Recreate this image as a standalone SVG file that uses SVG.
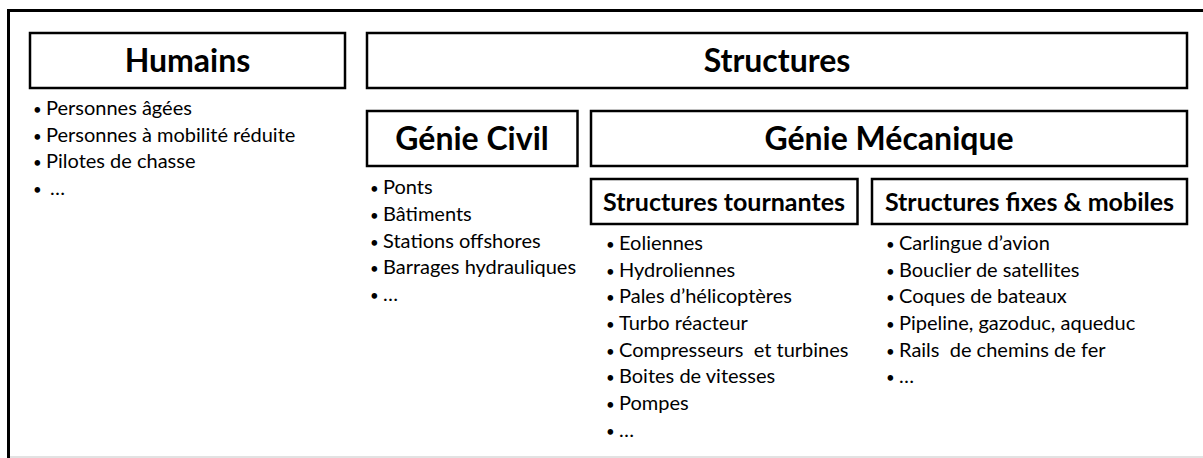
<svg xmlns="http://www.w3.org/2000/svg" width="1203" height="458" viewBox="0 0 1203 458">
<style>
.box{fill:#fff;stroke:#000;stroke-width:2.5}
.t1{font-family:Lato,"Liberation Sans",sans-serif;font-weight:bold;font-size:32px;text-anchor:middle;fill:#000}
.t2{font-family:Lato,"Liberation Sans",sans-serif;font-weight:bold;font-size:25px;text-anchor:middle;fill:#000}
.li{font-family:Lato,"Liberation Sans",sans-serif;font-size:20px;fill:#000}
.b{font-size:15px}
</style>
<rect width="1203" height="458" fill="#fff"/>
<path d="M8.5,458 V10.5 H1210" fill="none" stroke="#000" stroke-width="3"/>
<line x1="10" y1="457" x2="1203" y2="457" stroke="#d9d9d9" stroke-width="1.5"/>
<g id="humains">
<rect class="box" x="30" y="33" width="315" height="55"/>
<text class="t1" x="187.5" y="72">Humains</text>
<text class="li" y="115"><tspan class="b" x="33">•</tspan><tspan x="46">Personnes âgées</tspan></text>
<text class="li" y="142"><tspan class="b" x="33">•</tspan><tspan x="46">Personnes à mobilité réduite</tspan></text>
<text class="li" y="168"><tspan class="b" x="33">•</tspan><tspan x="46">Pilotes de chasse</tspan></text>
<text class="li" y="195"><tspan class="b" x="33">•</tspan><tspan x="50">…</tspan></text>
</g>
<g id="structures">
<rect class="box" x="367" y="33" width="820" height="55"/>
<text class="t1" x="777" y="72">Structures</text>
</g>
<g id="genie-civil">
<rect class="box" x="367" y="111" width="210.5" height="55"/>
<text class="t1" x="472" y="150">Génie Civil</text>
<text class="li" y="194"><tspan class="b" x="370">•</tspan><tspan x="383">Ponts</tspan></text>
<text class="li" y="221"><tspan class="b" x="370">•</tspan><tspan x="383">Bâtiments</tspan></text>
<text class="li" y="247.5"><tspan class="b" x="370">•</tspan><tspan x="383">Stations offshores</tspan></text>
<text class="li" y="274"><tspan class="b" x="370">•</tspan><tspan x="383">Barrages hydrauliques</tspan></text>
<text class="li" y="301"><tspan class="b" x="370">•</tspan><tspan x="383">…</tspan></text>
</g>
<g id="genie-mecanique">
<rect class="box" x="591" y="111" width="596" height="55"/>
<text class="t1" x="889" y="150">Génie Mécanique</text>
</g>
<g id="structures-tournantes">
<rect class="box" x="591" y="179" width="266.5" height="45"/>
<text class="t2" x="724" y="210.5">Structures tournantes</text>
<text class="li" y="250"><tspan class="b" x="606">•</tspan><tspan x="619">Eoliennes</tspan></text>
<text class="li" y="276.5"><tspan class="b" x="606">•</tspan><tspan x="619">Hydroliennes</tspan></text>
<text class="li" y="303"><tspan class="b" x="606">•</tspan><tspan x="619">Pales d’hélicoptères</tspan></text>
<text class="li" y="330"><tspan class="b" x="606">•</tspan><tspan x="619">Turbo réacteur</tspan></text>
<text class="li" y="356.5"><tspan class="b" x="606">•</tspan><tspan x="619" xml:space="preserve">Compresseurs  et turbines</tspan></text>
<text class="li" y="383"><tspan class="b" x="606">•</tspan><tspan x="619">Boites de vitesses</tspan></text>
<text class="li" y="410"><tspan class="b" x="606">•</tspan><tspan x="619">Pompes</tspan></text>
<text class="li" y="436.5"><tspan class="b" x="606">•</tspan><tspan x="619">…</tspan></text>
</g>
<g id="structures-fixes">
<rect class="box" x="872" y="179" width="315" height="45"/>
<text class="t2" x="1029.5" y="210.5">Structures fixes &amp; mobiles</text>
<text class="li" y="250"><tspan class="b" x="886">•</tspan><tspan x="899">Carlingue d’avion</tspan></text>
<text class="li" y="276.5"><tspan class="b" x="886">•</tspan><tspan x="899">Bouclier de satellites</tspan></text>
<text class="li" y="303"><tspan class="b" x="886">•</tspan><tspan x="899">Coques de bateaux</tspan></text>
<text class="li" y="330"><tspan class="b" x="886">•</tspan><tspan x="899">Pipeline, gazoduc, aqueduc</tspan></text>
<text class="li" y="356.5"><tspan class="b" x="886">•</tspan><tspan x="899" xml:space="preserve">Rails  de chemins de fer</tspan></text>
<text class="li" y="383"><tspan class="b" x="886">•</tspan><tspan x="899">…</tspan></text>
</g>
<g id="connectors"></g>
</svg>
